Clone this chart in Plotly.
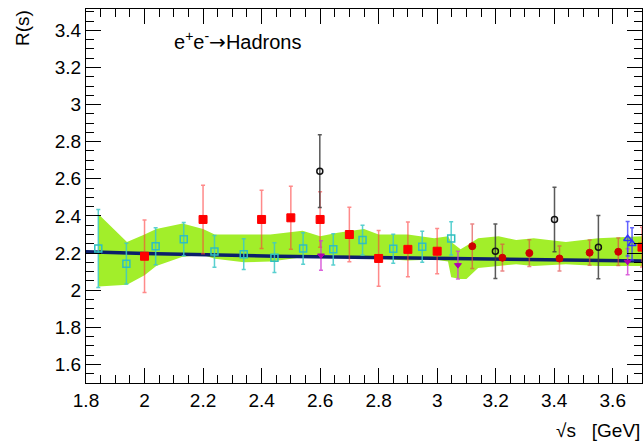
import plotly.graph_objects as go

# ---- data ----
band_x = [1.842, 1.94, 2.00, 2.04, 2.13, 2.20, 2.24, 2.34, 2.43, 2.54, 2.60, 2.66, 2.75, 2.80,
          2.90, 2.99, 3.037, 3.048, 3.08, 3.10, 3.14, 3.21, 3.27, 3.33, 3.44, 3.55, 3.70]
band_hi = [2.41, 2.26, 2.30, 2.33, 2.36, 2.33, 2.30, 2.30, 2.30, 2.32, 2.29, 2.31, 2.33, 2.30,
           2.30, 2.28, 2.29, 2.26, 2.22, 2.24, 2.28, 2.29, 2.27, 2.28, 2.26, 2.28, 2.29]
band_lo = [2.02, 2.03, 2.08, 2.13, 2.18, 2.19, 2.17, 2.15, 2.155, 2.18, 2.19, 2.185, 2.18, 2.17,
           2.16, 2.165, 2.155, 2.07, 2.06, 2.06, 2.12, 2.13, 2.14, 2.13, 2.14, 2.13, 2.13]

theory_x = [1.8, 2.0, 2.45, 3.08, 3.7]
theory_y = [2.207, 2.198, 2.183, 2.169, 2.157]

cyan_x = [1.842, 1.938, 2.038, 2.134, 2.239, 2.339, 2.444, 2.542, 2.645, 2.745, 2.850, 2.949, 3.048]
cyan_y = [2.225, 2.143, 2.237, 2.275, 2.209, 2.194, 2.175, 2.225, 2.220, 2.270, 2.223, 2.234, 2.279]
cyan_e = [0.21, 0.11, 0.10, 0.09, 0.086, 0.083, 0.08, 0.085, 0.084, 0.08, 0.078, 0.083, 0.09]

red_x = [2.0, 2.2, 2.4, 2.5, 2.6, 2.7, 2.8, 2.9, 3.0, 3.7]
red_y = [2.183, 2.381, 2.381, 2.390, 2.381, 2.30, 2.171, 2.22, 2.21, 2.232]
red_e = [0.195, 0.185, 0.157, 0.17, 0.15, 0.147, 0.15, 0.148, 0.122, 0.107]

dred_x = [3.12, 3.223, 3.315, 3.418, 3.521, 3.619]
dred_y = [2.237, 2.175, 2.20, 2.171, 2.202, 2.207]
dred_e = [0.12, 0.072, 0.072, 0.067, 0.068, 0.074]

blk_x = [2.599, 3.199, 3.401, 3.551]
blk_y = [2.641, 2.21, 2.381, 2.232]
blk_e = [0.196, 0.147, 0.174, 0.171]

mag_x = [2.603, 3.071, 3.651]
mag_y = [2.187, 2.135, 2.153]
mag_e = [0.08, 0.075, 0.07]

blue_x = [3.651, 3.666]
blue_y = [2.277, 2.25]
blue_e = [0.093, 0.087]

x_ticks = [1.8, 2.0, 2.2, 2.4, 2.6, 2.8, 3.0, 3.2, 3.4, 3.6]
x_tick_labels = ["1.8", "2", "2.2", "2.4", "2.6", "2.8", "3", "3.2", "3.4", "3.6"]
y_ticks = [1.6, 1.8, 2.0, 2.2, 2.4, 2.6, 2.8, 3.0, 3.2, 3.4]
y_tick_labels = ["1.6", "1.8", "2", "2.2", "2.4", "2.6", "2.8", "3", "3.2", "3.4"]

FONT = "Liberation Sans, Arial, Helvetica, sans-serif"

fig = go.Figure()

# uncertainty band
fig.add_trace(go.Scatter(x=band_x, y=band_hi, mode="lines", line=dict(width=0, color="#a2ee2a"),
                         showlegend=False, hoverinfo="skip"))
fig.add_trace(go.Scatter(x=band_x, y=band_lo, mode="lines", line=dict(width=0, color="#a2ee2a"),
                         fill="tonexty", fillcolor="#a2ee2a", showlegend=False, hoverinfo="skip"))
# theory line
fig.add_trace(go.Scatter(x=theory_x, y=theory_y, mode="lines", line=dict(width=3.5, color="#0b1f6b"),
                         showlegend=False))


def pts(x, y, e, symbol, size, mcolor, ecolor, lw=1):
    fig.add_trace(go.Scatter(
        x=x, y=y, mode="markers",
        marker=dict(symbol=symbol, size=size, color=mcolor, line=dict(color=mcolor, width=lw)),
        error_y=dict(type="data", array=e, visible=True, color=ecolor, thickness=1.5, width=2),
        showlegend=False, cliponaxis=True))


pts(red_x, red_y, red_e, "square", 8, "#ff0000", "rgba(255,60,60,0.6)")
pts(cyan_x, cyan_y, cyan_e, "square-open", 7, "#2fbfbf", "rgba(60,200,200,0.85)", 1.5)
pts(dred_x, dred_y, dred_e, "circle", 7, "#cc0000", "rgba(225,70,70,0.65)")
pts(blk_x, blk_y, blk_e, "circle-open", 6, "#111111", "rgba(60,60,60,0.85)", 1.5)
pts(mag_x, mag_y, mag_e, "triangle-down", 6, "#b000b0", "rgba(210,60,210,0.8)")
pts(blue_x, blue_y, blue_e, "triangle-up-open", 7, "#3030ff", "rgba(60,60,255,0.8)", 1.5)

axis_common = dict(
    showgrid=False, zeroline=False, showline=True, linecolor="black", linewidth=1,
    mirror="ticks", ticks="inside", ticklen=15, tickwidth=1, tickcolor="black",
    tickfont=dict(family=FONT, size=19, color="black"),
    minor=dict(ticks="inside", ticklen=8, tickwidth=1, tickcolor="black", dtick=0.05),
)

fig.update_xaxes(range=[1.8, 3.7], tickvals=x_ticks, ticktext=x_tick_labels, **axis_common)
fig.update_yaxes(range=[1.5, 3.515], tickvals=y_ticks, ticktext=y_tick_labels, **axis_common)

fig.add_annotation(text="e<sup>+</sup>e<sup>-</sup><span style=\"font-family:DejaVu Sans\">\u2192</span>Hadrons",
                   xref="paper", yref="paper",
                   x=0.155, y=0.914, xanchor="left", yanchor="middle", showarrow=False,
                   font=dict(family=FONT, size=20, color="black"))
fig.add_annotation(text="\u221As   [GeV]", xref="paper", yref="paper",
                   x=1.0, y=-0.126, xanchor="right", yanchor="middle", showarrow=False,
                   font=dict(family=FONT, size=19, color="black"))
fig.add_annotation(text="R(s)", xref="paper", yref="paper", textangle=-90,
                   x=-0.113, y=1.003, xanchor="center", yanchor="top", showarrow=False,
                   font=dict(family=FONT, size=19, color="black"))

fig.update_layout(
    width=643, height=441,
    margin=dict(l=86, r=1, t=9, b=58),
    plot_bgcolor="white", paper_bgcolor="white",
    showlegend=False,
)

fig.write_html("out.html", config={"displayModeBar": False},
               post_script="document.body.style.margin='0';document.body.style.overflow='hidden';")
